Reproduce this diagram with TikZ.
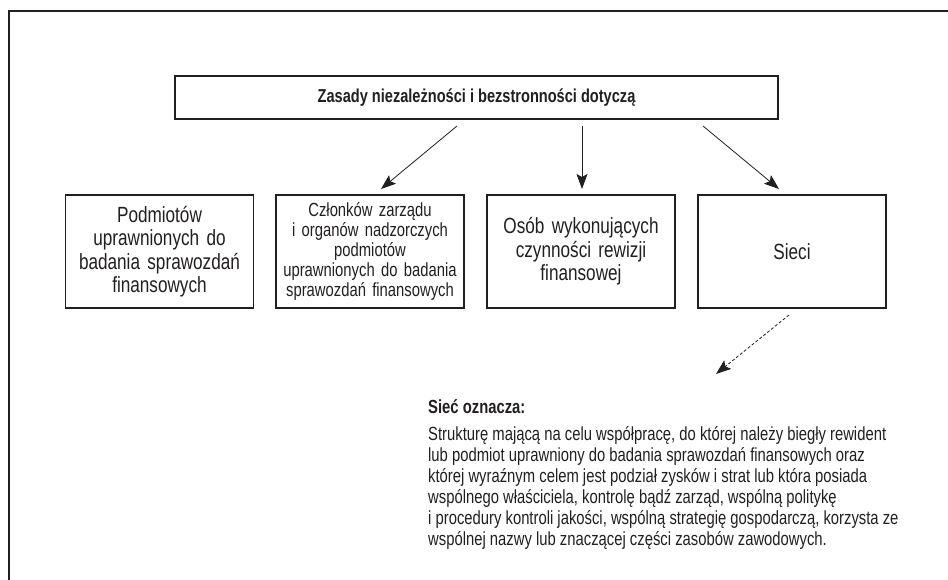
\documentclass[tikz,border=0pt]{standalone}
\usepackage{fontspec}
\setmainfont{Liberation Sans}
\newfontfamily\cf[FakeStretch=0.78]{Liberation Sans}
\usetikzlibrary{arrows.meta}
\definecolor{ink}{HTML}{231F20}
\begin{document}
\begin{tikzpicture}[x=1pt,y=1pt,
  boxst/.style={draw=ink, line width=1.3pt, text=ink, align=center, inner sep=0pt},
  lowbox/.style={boxst, minimum width=188pt, minimum height=113pt, text width=182pt},
  bigtxt/.style={font=\cf\fontsize{22}{23.5}\selectfont},
  smalltxt/.style={font=\cf\fontsize{19}{20}\selectfont},
  arr/.style={draw=ink, line width=0.8pt, -{Stealth[length=15pt,width=11pt,inset=3pt]}},
  darr/.style={arr, dashed, dash pattern=on 3pt off 2pt}
]
\useasboundingbox (0,0) rectangle (948,-580);
\fill[white] (0,0) rectangle (948,-580);
% frame
\coordinate (fl) at (9,-580);
\coordinate (fc) at (9,-11);
\coordinate (fr) at (948,-11);
\draw[ink, line width=1.5pt] (fl) -- (fc) -- (fr);
% top box
\node[boxst, minimum width=603pt, minimum height=43pt, font=\cf\bfseries\fontsize{18.7}{20}\selectfont]
  (top) at (476.5,-97.5) {Zasady niezależności i bezstronności dotyczą};
% bottom boxes
\node[lowbox, bigtxt] (b1) at (159.5,-251.5) {Podmiotów\\ uprawnionych do\\ badania sprawozdań\\ finansowych};
\node[lowbox, smalltxt] (b2) at (370,-251.5) {Członków zarządu\\ i organów nadzorczych\\ podmiotów\\ uprawnionych do badania\\ sprawozdań finansowych};
\node[lowbox, bigtxt] (b3) at (581,-251.5) {Osób wykonujących\\ czynności rewizji\\ finansowej};
\node[lowbox, bigtxt] (b4) at (792,-251.5) {Sieci};
% arrows
\coordinate (s1) at (457,-126); \coordinate (e1) at (381,-189);
\coordinate (s2) at (582,-126); \coordinate (e2) at (582,-189);
\coordinate (s3) at (703,-126); \coordinate (e3) at (779,-189);
\draw[arr] (s1) -- (e1);
\draw[arr] (s2) -- (e2);
\draw[arr] (s3) -- (e3);
\coordinate (s4) at (789,-315); \coordinate (e4) at (716,-374);
\draw[darr] (s4) -- (e4);
% note
\node[anchor=base west, inner sep=0pt, text=ink, font=\cf\bfseries\fontsize{19}{21}\selectfont]
  (nt) at (428,-413) {Sieć oznacza:};
\node[anchor=north west, inner sep=0pt, text=ink, align=left, font=\cf\fontsize{19}{21}\selectfont]
  (np) at (428,-426) {Strukturę mającą na celu współpracę, do której należy biegły rewident\\
lub podmiot uprawniony do badania sprawozdań finansowych oraz\\
której wyraźnym celem jest podział zysków i strat lub która posiada\\
wspólnego właściciela, kontrolę bądź zarząd, wspólną politykę\\
i procedury kontroli jakości, wspólną strategię gospodarczą, korzysta ze\\
wspólnej nazwy lub znaczącej części zasobów zawodowych.};
\end{tikzpicture}
\end{document}
